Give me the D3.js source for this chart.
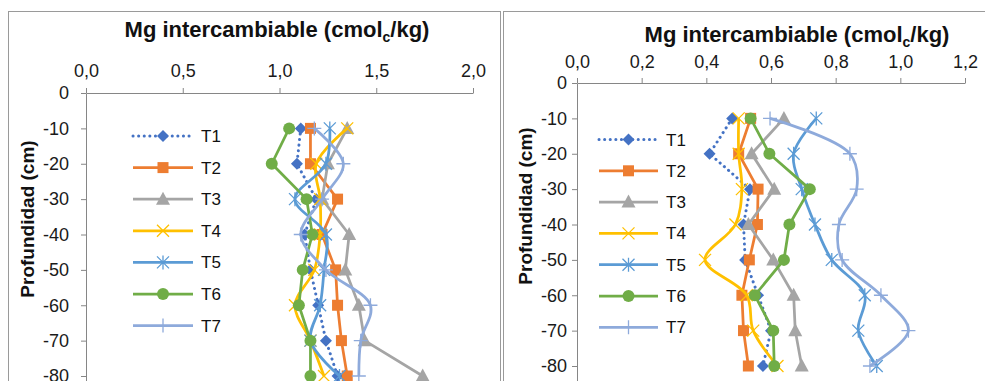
<!DOCTYPE html>
<html>
<head>
<meta charset="utf-8">
<script src="https://cdn.jsdelivr.net/npm/d3@7"></script>
<style>
  body { margin: 0; background: #fff; }
  svg { display: block; font-family: "Liberation Sans", Arial, sans-serif; }
</style>
</head>
<body>
<div id="chart"></div>
<script>
// depths (cm) and series names
const depths = [-10, -20, -30, -40, -50, -60, -70, -80];
const seriesNames = ['T1', 'T2', 'T3', 'T4', 'T5', 'T6', 'T7'];

// left panel values, one array per treatment
const leftSeries = [
  [1.11, 1.09, 1.19, 1.13, 1.16, 1.20, 1.24, 1.30],
  [1.16, 1.16, 1.30, 1.22, 1.29, 1.30, 1.32, 1.35],
  [1.35, 1.25, 1.22, 1.36, 1.34, 1.41, 1.44, 1.74],
  [1.35, 1.19, 1.21, 1.21, 1.18, 1.08, 1.16, 1.23],
  [1.26, 1.24, 1.08, 1.24, 1.23, 1.21, 1.16, 1.31],
  [1.05, 0.96, 1.14, 1.17, 1.12, 1.10, 1.16, 1.16],
  [1.18, 1.33, 1.22, 1.11, 1.24, 1.47, 1.42, 1.41]
];

// right panel values
const rightSeries = [
  [0.48, 0.41, 0.535, 0.515, 0.52, 0.56, 0.60, 0.575],
  [0.537, 0.50, 0.56, 0.558, 0.533, 0.51, 0.515, 0.53],
  [0.64, 0.54, 0.61, 0.53, 0.607, 0.67, 0.675, 0.695],
  [0.50, 0.50, 0.51, 0.49, 0.396, 0.525, 0.545, 0.62],
  [0.74, 0.67, 0.695, 0.736, 0.788, 0.89, 0.87, 0.927],
  [0.537, 0.595, 0.72, 0.657, 0.64, 0.55, 0.607, 0.61],
  [0.597, 0.844, 0.865, 0.81, 0.82, 0.94, 1.025, 0.906]
];

const leftTicks = [0, 0.5, 1.0, 1.5, 2.0];
const rightTicks = [0, 0.2, 0.4, 0.6, 0.8, 1.0, 1.2];
const depthTicks = [0, -10, -20, -30, -40, -50, -60, -70, -80];

const colors = ['#4472c4', '#ed7d31', '#a5a5a5', '#ffc000', '#5b9bd5', '#70ad47', '#8eaadb'];
const markers = ['diamond', 'square', 'triangle', 'x', 'star', 'circle', 'plus'];
const smooth = [false, false, false, true, true, false, true];

const W = 985, H = 381;
const svg = d3.select('#chart').append('svg').attr('width', W).attr('height', H);

const comma = v => d3.format('.1f')(v).replace('.', ',');

function drawMarker(g, type, color) {
  if (type === 'diamond') {
    g.append('path').attr('d', 'M0,-6L6,0L0,6L-6,0Z').attr('fill', color);
  } else if (type === 'square') {
    g.append('rect').attr('x', -5.5).attr('y', -5.5).attr('width', 11).attr('height', 11).attr('fill', color);
  } else if (type === 'triangle') {
    g.append('path').attr('d', 'M0,-7.5L7,5.5L-7,5.5Z').attr('fill', color);
  } else if (type === 'circle') {
    g.append('circle').attr('r', 6).attr('fill', color);
  } else if (type === 'x') {
    g.append('path').attr('d', 'M-6,-6L6,6M-6,6L6,-6').attr('stroke', color).attr('stroke-width', 1.3);
  } else if (type === 'star') {
    g.append('path').attr('d', 'M-6,-6L6,6M-6,6L6,-6M0,-7L0,7').attr('stroke', color).attr('stroke-width', 1.3);
  } else if (type === 'plus') {
    g.append('path').attr('d', 'M-7,0L7,0M0,-7L0,7').attr('stroke', color).attr('stroke-width', 1.3);
  }
}

function drawPanel(p) {
  const root = svg.append('g');

  root.append('rect')
    .attr('x', p.box[0] + 0.5).attr('y', p.box[1] + 0.5)
    .attr('width', p.box[2]).attr('height', 500)
    .attr('fill', 'none').attr('stroke', '#9a9a9a');

  const x = d3.scaleLinear().domain([0, p.max]).range(p.xRange);
  const y = d3.scaleLinear().domain([0, -100]).range([p.y0, p.y0 + 353.75]);

  // x axis on top
  const xAxis = root.append('g')
    .attr('transform', `translate(0,${p.y0})`)
    .call(d3.axisTop(x).tickValues(p.ticks).tickFormat(comma).tickSize(5).tickSizeOuter(0).tickPadding(p.xPad));
  // y axis
  const yAxis = root.append('g')
    .attr('transform', `translate(${p.xRange[0]},0)`)
    .call(d3.axisLeft(y).tickValues(depthTicks).tickFormat(d => String(d)).tickSize(5).tickSizeOuter(0).tickPadding(p.yPad));

  [xAxis, yAxis].forEach(a => {
    a.select('.domain').attr('stroke', '#868686');
    a.selectAll('.tick line').attr('stroke', '#868686');
    a.selectAll('.tick text').attr('fill', '#1a1a1a').style('font-size', '18px');
  });

  // title
  const t = root.append('text')
    .attr('x', p.title[0]).attr('y', p.title[1])
    .attr('text-anchor', 'middle')
    .style('font-size', '22px').style('font-weight', 'bold').attr('fill', '#111');
  t.append('tspan').text('Mg intercambiable (cmol');
  t.append('tspan').text('c').style('font-size', '14px').attr('dy', 5);
  t.append('tspan').text('/kg)').attr('dy', -5);

  // y axis title
  root.append('text')
    .attr('transform', `translate(${p.ytitle[0]},${p.ytitle[1]}) rotate(-90)`)
    .attr('text-anchor', 'middle')
    .style('font-size', '19px').style('font-weight', 'bold').attr('fill', '#111')
    .text('Profundidad (cm)');

  // series
  p.series.forEach((vals, i) => {
    const pts = vals.map((v, j) => [x(v), y(depths[j])]);
    const line = d3.line().curve(smooth[i] ? d3.curveCatmullRom.alpha(0.5) : d3.curveLinear);
    const g = root.append('g');
    const path = g.append('path')
      .attr('d', line(pts))
      .attr('fill', 'none')
      .attr('stroke', colors[i])
      .attr('stroke-width', 2.75)
      .attr('stroke-linejoin', 'round');
    if (i === 0) path.attr('stroke-dasharray', '0.1,5.5').attr('stroke-linecap', 'round').attr('stroke-width', 3);
    pts.forEach(pt => {
      drawMarker(g.append('g').attr('transform', `translate(${pt[0]},${pt[1]})`), markers[i], colors[i]);
    });
  });

  // legend
  seriesNames.forEach((name, i) => {
    const ly = p.legend[1] + i * p.legend[3];
    const g = root.append('g');
    const l = g.append('line')
      .attr('x1', p.legend[0]).attr('x2', p.legend[0] + p.legend[2])
      .attr('y1', ly).attr('y2', ly)
      .attr('stroke', colors[i]).attr('stroke-width', 2.75);
    if (i === 0) l.attr('stroke-dasharray', '0.1,5.5').attr('stroke-linecap', 'round').attr('stroke-width', 3);
    drawMarker(g.append('g').attr('transform', `translate(${p.legend[0] + p.legend[2] / 2},${ly})`), markers[i], colors[i]);
    g.append('text')
      .attr('x', p.legend[0] + p.legend[2] + 8).attr('y', ly + 6)
      .style('font-size', '17px').attr('fill', '#111')
      .text(name);
  });
}

drawPanel({
  box: [8, 11, 492],
  xRange: [86, 473], y0: 93, max: 2.0, ticks: leftTicks,
  xPad: 11, yPad: 12,
  title: [277, 37], ytitle: [34, 219],
  legend: [133, 136, 60, 31.6],
  series: leftSeries
});

drawPanel({
  box: [503, 11, 500],
  xRange: [577, 965], y0: 83, max: 1.2, ticks: rightTicks,
  xPad: 10, yPad: 5,
  title: [797, 42], ytitle: [532, 206],
  legend: [599, 139.5, 59, 31.3],
  series: rightSeries
});
</script>
</body>
</html>
